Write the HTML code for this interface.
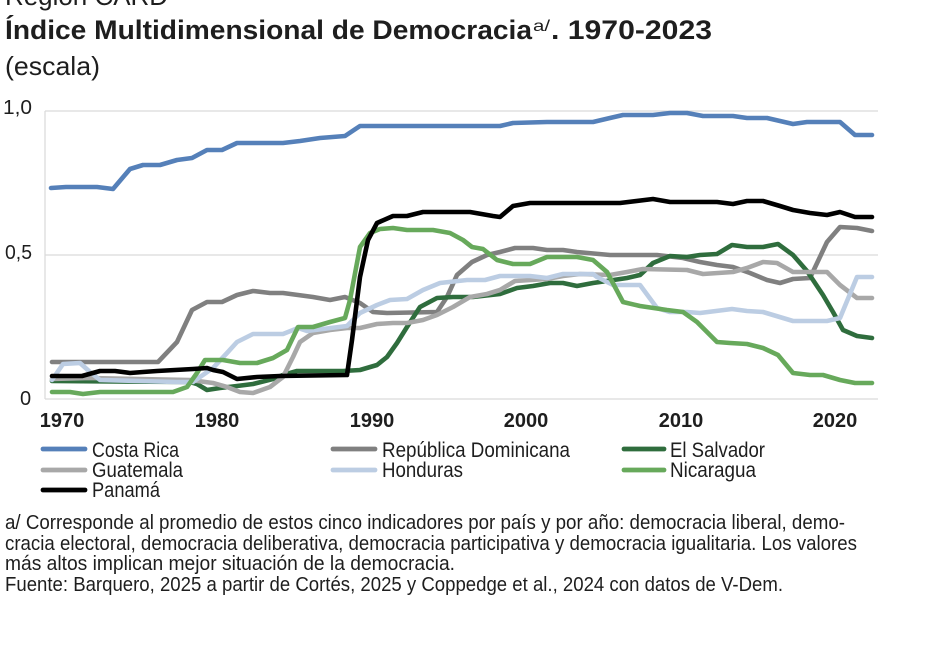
<!DOCTYPE html>
<html><head><meta charset="utf-8"><style>
html,body{margin:0;padding:0;background:#fff;}
svg{display:block;}
text{font-family:"Liberation Sans",sans-serif;fill:#1e1e1e;}
</style></head><body>
<svg width="932" height="669" viewBox="0 0 932 669" xmlns="http://www.w3.org/2000/svg">
<rect width="932" height="669" fill="#fff"/>
<text x="5" y="5" font-size="26" textLength="163" lengthAdjust="spacingAndGlyphs">Región CARD</text>
<text x="5" y="39" font-size="27" font-weight="bold" textLength="527" lengthAdjust="spacingAndGlyphs">Índice Multidimensional de Democracia</text>
<text x="533" y="31" font-size="16" textLength="17" lengthAdjust="spacingAndGlyphs">a/</text>
<text x="551" y="39" font-size="27" font-weight="bold" textLength="161" lengthAdjust="spacingAndGlyphs">. 1970-2023</text>
<text x="5" y="75" font-size="26" textLength="95" lengthAdjust="spacingAndGlyphs">(escala)</text>

<g stroke="#d9d9d9" stroke-width="1.2" fill="none">
<line x1="45" y1="111" x2="878" y2="111"/>
<line x1="45" y1="255" x2="878" y2="255"/>
<line x1="45" y1="399" x2="878" y2="399"/>
<line x1="45" y1="111" x2="45" y2="399"/>
</g>

<text x="3" y="114" font-size="20" textLength="29" lengthAdjust="spacingAndGlyphs">1,0</text>
<text x="5" y="259" font-size="20" textLength="27" lengthAdjust="spacingAndGlyphs">0,5</text>
<text x="20" y="405" font-size="20">0</text>

<g font-size="20" font-weight="bold" text-anchor="middle">
<text x="62" y="427">1970</text>
<text x="217" y="427">1980</text>
<text x="372" y="427">1990</text>
<text x="526" y="427">2000</text>
<text x="681" y="427">2010</text>
<text x="835" y="427">2020</text>
</g>

<g fill="none" stroke-width="4.6" stroke-linejoin="round" stroke-linecap="round">
<polyline stroke="#5580b9" points="51,188 66,187 97,187 113,189 130,169 143,165 160,165 177,160 192,158 207,150 222,150 237,143 283,143 300,141 320,138 345,136 360,126 500,126 513,123 547,122 593,122 610,118 623,115 653,115 670,113 687,113 703,116 733,116 747,118 767,118 780,121 793,124 807,122 840,122 855,135 872,135"/>
<polyline stroke="#808080" points="52,362 158,362 177,342 192,310 207,302 222,302 237,295 253,291 270,293 283,293 313,297 330,300 345,297 360,303 373,312 387,313 437,312 447,297 457,275 472,262 487,255 500,252 515,248 533,248 547,250 563,250 577,252 610,255 657,255 683,258 700,262 717,265 733,267 750,273 767,280 780,283 793,279 810,278 827,242 840,227 857,228 872,231"/>
<polyline stroke="#2f6d3d" points="52,381 190,382 197,384 207,390 220,388 237,386 253,384 273,379 283,375 297,371 343,371 360,370 377,365 387,357 397,343 407,327 420,307 437,298 453,297 473,297 500,294 517,288 533,286 550,283 563,283 577,286 593,283 600,282 627,278 640,275 653,263 670,256 687,257 700,255 717,254 732,245 747,247 763,247 778,244 793,255 807,271 823,295 833,312 843,330 857,336 872,338"/>
<polyline stroke="#a8a8a8" points="52,379 90,378 190,380 213,383 227,387 240,392 253,393 270,387 283,377 293,357 300,342 313,333 330,330 347,328 360,328 377,324 393,323 407,323 423,320 437,315 453,307 470,297 487,294 500,290 515,281 547,279 563,276 580,274 610,275 627,272 643,269 687,270 703,274 733,272 747,268 763,262 777,263 793,272 827,272 840,285 857,298 872,298"/>
<polyline stroke="#bccde3" points="52,380 63,364 80,363 90,372 100,380 177,382 193,382 200,377 213,368 227,353 237,342 253,334 283,334 298,328 307,331 347,326 360,313 377,305 390,300 407,299 423,290 440,283 467,280 485,280 500,276 530,276 547,278 563,274 593,274 597,277 613,285 640,285 657,308 670,312 687,312 700,313 732,309 747,311 763,312 793,321 827,321 840,318 857,277 872,277"/>
<polyline stroke="#67a95b" points="52,392 70,392 83,394 100,392 173,392 187,387 197,373 205,360 223,360 240,363 257,363 273,358 287,350 298,327 313,327 330,322 345,318 350,300 360,247 370,233 380,229 393,228 407,230 433,230 450,233 463,240 472,247 483,249 497,260 513,264 530,264 547,257 577,257 593,260 607,272 623,302 640,306 667,310 683,312 697,322 717,342 730,343 747,344 763,348 778,355 793,373 810,375 823,375 840,380 855,383 872,383"/>
<polyline stroke="#000000" points="52,376 82,376 100,371 115,371 130,373 143,372 157,371 193,369 207,368 213,370 223,372 237,379 257,377 280,376 347,375 352,340 360,277 368,240 377,223 393,216 407,216 423,212 470,212 493,216 500,217 513,206 530,203 620,203 653,199 670,202 717,202 733,204 747,201 763,201 780,206 793,210 810,213 827,215 840,212 855,217 872,217"/>
</g>

<g stroke-width="4.8" stroke-linecap="round">
<line x1="43" y1="449" x2="85" y2="449" stroke="#5580b9"/>
<line x1="333" y1="449" x2="375" y2="449" stroke="#808080"/>
<line x1="624" y1="449" x2="664" y2="449" stroke="#2f6d3d"/>
<line x1="43" y1="470" x2="85" y2="470" stroke="#a8a8a8"/>
<line x1="333" y1="470" x2="375" y2="470" stroke="#bccde3"/>
<line x1="624" y1="470" x2="664" y2="470" stroke="#67a95b"/>
<line x1="43" y1="490" x2="85" y2="490" stroke="#000000"/>
</g>
<g font-size="21">
<text x="92" y="457" textLength="87" lengthAdjust="spacingAndGlyphs">Costa Rica</text>
<text x="382" y="457" textLength="188" lengthAdjust="spacingAndGlyphs">República Dominicana</text>
<text x="670" y="457" textLength="95" lengthAdjust="spacingAndGlyphs">El Salvador</text>
<text x="92" y="477" textLength="91" lengthAdjust="spacingAndGlyphs">Guatemala</text>
<text x="382" y="477" textLength="81" lengthAdjust="spacingAndGlyphs">Honduras</text>
<text x="670" y="477" textLength="86" lengthAdjust="spacingAndGlyphs">Nicaragua</text>
<text x="92" y="497" textLength="68" lengthAdjust="spacingAndGlyphs">Panamá</text>
</g>

<g font-size="20">
<text x="5" y="529" textLength="840" lengthAdjust="spacingAndGlyphs">a/ Corresponde al promedio de estos cinco indicadores por país y por año: democracia liberal, demo-</text>
<text x="5" y="550" textLength="852" lengthAdjust="spacingAndGlyphs">cracia electoral, democracia deliberativa, democracia participativa y democracia igualitaria. Los valores</text>
<text x="5" y="570" textLength="450" lengthAdjust="spacingAndGlyphs">más altos implican mejor situación de la democracia.</text>
<text x="5" y="591" textLength="778" lengthAdjust="spacingAndGlyphs">Fuente: Barquero, 2025 a partir de Cortés, 2025 y Coppedge et al., 2024 con datos de V-Dem.</text>
</g>
</svg>
</body></html>
